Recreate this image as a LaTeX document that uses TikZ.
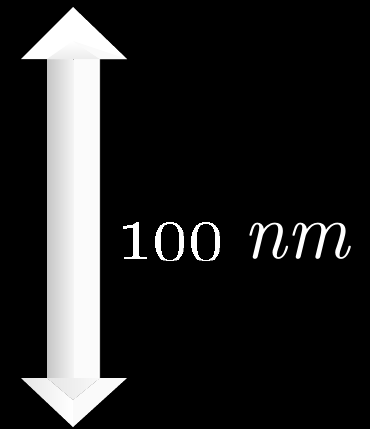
\documentclass[tikz,border=0pt]{standalone}
\usetikzlibrary{shadings}
\begin{document}
\begin{tikzpicture}[x=1pt,y=-1pt]
\tikzset{
  lbl/.style={text=white,inner sep=0pt,anchor=base west},
}
\useasboundingbox (0,0) rectangle (370,429);
\fill[black] (0,0) rectangle (370,429);
% shaft
\shade[left color=gray!45!white,right color=white!92!gray] (47,59) rectangle (73.5,378);
\fill[white!97!gray] (73.5,59) rectangle (98,378);
\shade[left color=white,right color=gray!60!white] (98,59) rectangle (100,378);
% top head
\fill[white] (21,59) -- (73,7) -- (127,59) -- cycle;
\shade[top color=white,bottom color=white!85!gray] (47,59) -- (73,41) -- (100,59) -- cycle;
\fill[white!96!gray] (73,41) -- (100,59) -- (127,59) -- cycle;
% bottom head
\fill[white!96!gray] (73,427) -- (127,378) -- (100,378) -- (73,400) -- cycle;
\shade[left color=white!80!gray,right color=white] (21,378) -- (47,378) -- (73,400) -- (73,427) -- cycle;
\shade[left color=white!80!gray,right color=white!95!gray] (47,378) -- (73,400) -- (100,378) -- cycle;
% label
\node[lbl] (lab) at (117,258) {\fontsize{10}{12}\selectfont\scalebox{7.1}[8.0]{\oldstylenums{100}}\hspace{20pt}\scalebox{7.7}[8.0]{\textit{nm}}};
\end{tikzpicture}
\end{document}
